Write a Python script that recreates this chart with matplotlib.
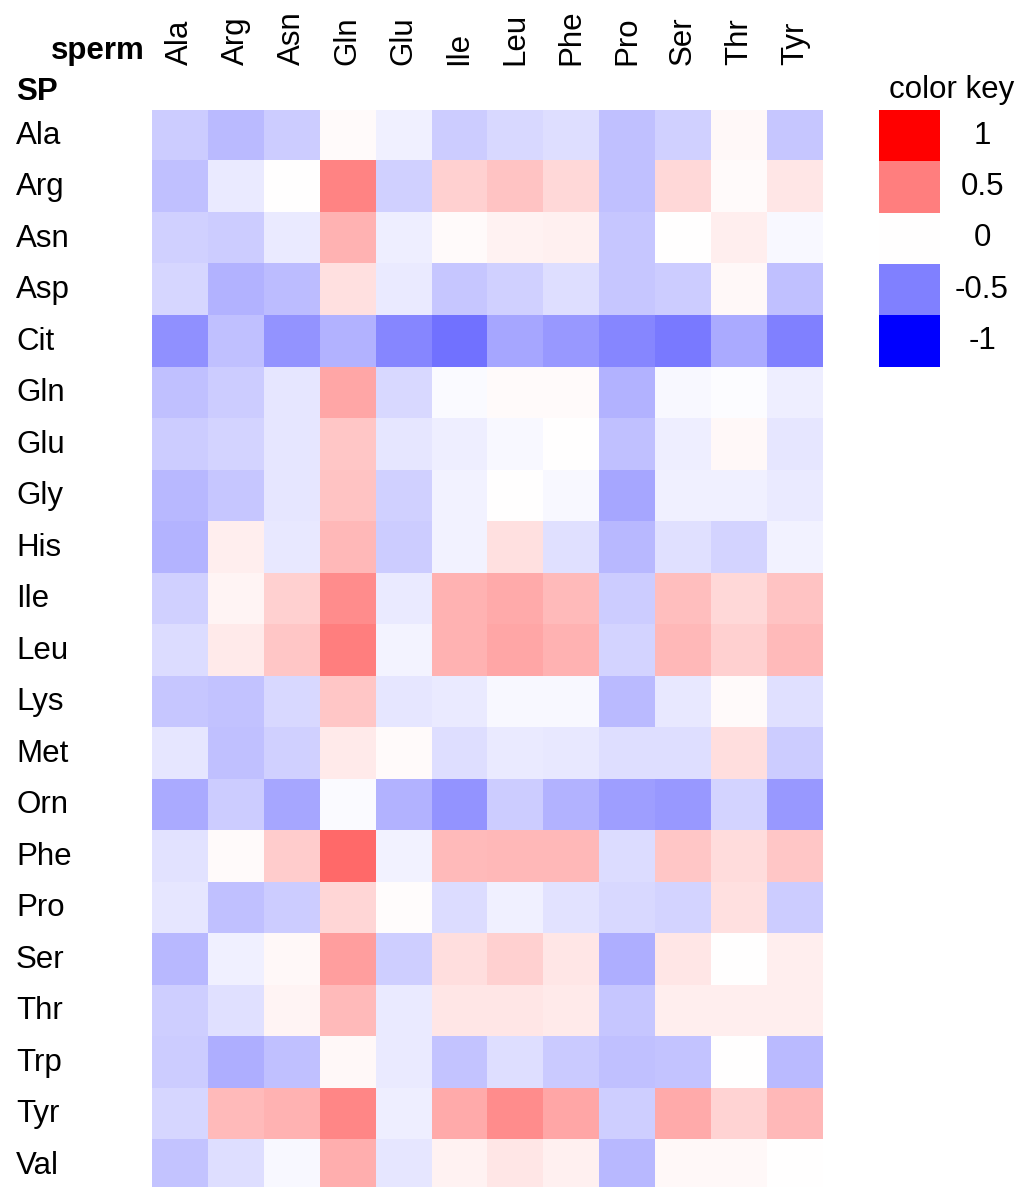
import numpy as np
import matplotlib
matplotlib.use("Agg")
import matplotlib.pyplot as plt

plt.rcParams['font.family'] = ['Liberation Sans', 'DejaVu Sans']

sperm_labels = ["Ala", "Arg", "Asn", "Gln", "Glu", "Ile", "Leu", "Phe", "Pro", "Ser", "Thr", "Tyr"]
sp_labels = ["Ala", "Arg", "Asn", "Asp", "Cit", "Gln", "Glu", "Gly", "His", "Ile", "Leu",
             "Lys", "Met", "Orn", "Phe", "Pro", "Ser", "Thr", "Trp", "Tyr", "Val"]

# correlation, rows = SP, columns = sperm
corr = [
    [-0.20, -0.27, -0.20,  0.02, -0.06, -0.20, -0.15, -0.13, -0.25, -0.18,  0.03, -0.22],
    [-0.25, -0.08,  0.00,  0.48, -0.18,  0.18,  0.23,  0.15, -0.25,  0.15,  0.02,  0.10],
    [-0.18, -0.20, -0.08,  0.30, -0.07,  0.02,  0.05,  0.06, -0.22,  0.00,  0.07, -0.03],
    [-0.16, -0.30, -0.26,  0.12, -0.08, -0.22, -0.18, -0.13, -0.22, -0.20,  0.03, -0.25],
    [-0.43, -0.25, -0.42, -0.30, -0.47, -0.55, -0.35, -0.40, -0.47, -0.52, -0.33, -0.50],
    [-0.25, -0.20, -0.10,  0.35, -0.15, -0.02,  0.02,  0.02, -0.30, -0.03, -0.01, -0.07],
    [-0.20, -0.17, -0.10,  0.22, -0.10, -0.07, -0.03,  0.00, -0.25, -0.07,  0.03, -0.10],
    [-0.28, -0.22, -0.10,  0.23, -0.18, -0.05,  0.00, -0.03, -0.35, -0.06, -0.06, -0.08],
    [-0.29,  0.07, -0.09,  0.28, -0.20, -0.05,  0.12, -0.12, -0.28, -0.12, -0.17, -0.05],
    [-0.18,  0.04,  0.18,  0.45, -0.08,  0.30,  0.33,  0.27, -0.20,  0.25,  0.15,  0.23],
    [-0.14,  0.08,  0.22,  0.50, -0.04,  0.30,  0.35,  0.30, -0.17,  0.28,  0.18,  0.27],
    [-0.22, -0.24, -0.15,  0.22, -0.10, -0.08, -0.03, -0.03, -0.27, -0.09,  0.02, -0.12],
    [-0.10, -0.25, -0.18,  0.08,  0.02, -0.13, -0.08, -0.09, -0.13, -0.13,  0.13, -0.20],
    [-0.33, -0.20, -0.35, -0.02, -0.30, -0.42, -0.20, -0.30, -0.38, -0.40, -0.17, -0.40],
    [-0.11,  0.02,  0.20,  0.58, -0.05,  0.27,  0.28,  0.28, -0.14,  0.22,  0.14,  0.22],
    [-0.10, -0.25, -0.20,  0.16,  0.01, -0.14, -0.06, -0.11, -0.15, -0.17,  0.12, -0.20],
    [-0.28, -0.06,  0.03,  0.38, -0.19,  0.13,  0.18,  0.10, -0.32,  0.10,  0.00,  0.07],
    [-0.19, -0.12,  0.04,  0.27, -0.08,  0.10,  0.10,  0.08, -0.22,  0.07,  0.07,  0.07],
    [-0.20, -0.32, -0.25,  0.03, -0.08, -0.23, -0.13, -0.21, -0.25, -0.23,  0.00, -0.27],
    [-0.16,  0.27,  0.30,  0.47, -0.07,  0.33,  0.45,  0.35, -0.19,  0.33,  0.17,  0.28],
    [-0.23, -0.13, -0.03,  0.32, -0.10,  0.05,  0.10,  0.06, -0.28,  0.03,  0.03,  0.00],
]

key_values = [1, 0.5, 0, -0.5, -1]
key_labels = ["1", "0.5", "0", "-0.5", "-1"]

W, H = 1033, 1187
fig = plt.figure(figsize=(W / 100, H / 100), dpi=100)

def fx(px):
    return px / W

def fy(py):
    return 1 - py / H

top, row_h = 110, 51.5
left, col_w = 152, 55.9
n_rows, n_cols = len(sp_labels), len(sperm_labels)
bottom = top + n_rows * row_h
right = left + n_cols * col_w

ax = fig.add_axes([fx(left), fy(bottom), fx(right) - fx(left), fy(top) - fy(bottom)])
ax.imshow(np.array(corr), cmap='bwr', vmin=-1, vmax=1, aspect='auto', interpolation='nearest')
ax.set_axis_off()

fs = 22.5
for j, lab in enumerate(sperm_labels):
    fig.text(fx(left + (j + 0.5) * col_w), fy(65), lab, rotation=90,
             ha='center', va='bottom', fontsize=fs)
for i, lab in enumerate(sp_labels):
    fig.text(fx(16), fy(top + (i + 0.5) * row_h), lab, ha='left', va='center', fontsize=fs)

fig.text(fx(145), fy(59), "sperm", ha='right', va='baseline', fontsize=fs, fontweight='bold')
fig.text(fx(16), fy(100), "SP", ha='left', va='baseline', fontsize=fs, fontweight='bold')

# colour key
key_top, key_h = 110, 51.4
kax = fig.add_axes([fx(879), fy(key_top + 5 * key_h), fx(940) - fx(879), fy(key_top) - fy(key_top + 5 * key_h)])
kax.imshow(np.array(key_values).reshape(-1, 1), cmap='bwr', vmin=-1, vmax=1,
           aspect='auto', interpolation='nearest')
kax.set_axis_off()
for k, lab in enumerate(key_labels):
    fig.text(fx(982), fy(key_top + (k + 0.5) * key_h), lab, ha='center', va='center', fontsize=fs)
fig.text(fx(952), fy(90), "color key", ha='center', va='center', fontsize=fs)

fig.savefig("out.png", dpi=100)
